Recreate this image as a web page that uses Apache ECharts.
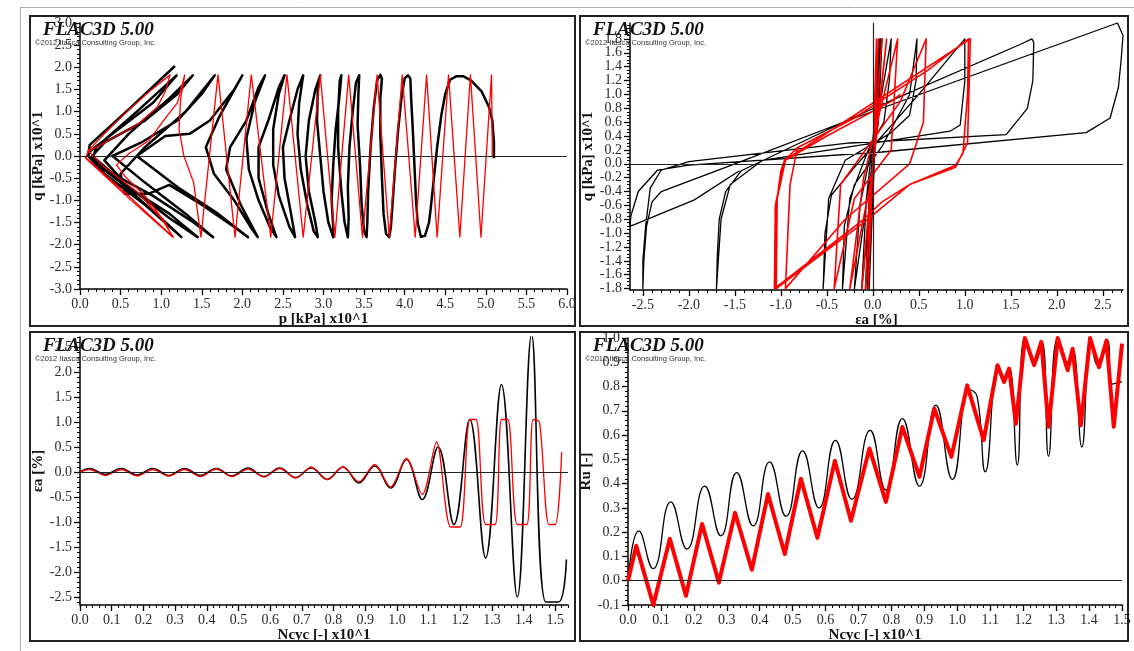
<!DOCTYPE html>
<html><head><meta charset="utf-8">
<script src="https://cdn.jsdelivr.net/npm/echarts@6/dist/echarts.min.js"></script>
<style>html,body{margin:0;padding:0;background:#fff}#c{width:1134px;height:651px}</style>
</head><body><div id="c"></div>
<script>
// ---------- tick labels ----------
const p1XTicks = [0.0,0.5,1.0,1.5,2.0,2.5,3.0,3.5,4.0,4.5,5.0,5.5,6.0];
const p1YTicks = [-3.0,-2.5,-2.0,-1.5,-1.0,-0.5,0.0,0.5,1.0,1.5,2.0,2.5,3.0];
const p2XTicks = [-2.5,-2.0,-1.5,-1.0,-0.5,0.0,0.5,1.0,1.5,2.0,2.5];
const p2YTicks = [-1.8,-1.6,-1.4,-1.2,-1.0,-0.8,-0.6,-0.4,-0.2,0.0,0.2,0.4,0.6,0.8,1.0,1.2,1.4,1.6,1.8];
const p3XTicks = [0.0,0.1,0.2,0.3,0.4,0.5,0.6,0.7,0.8,0.9,1.0,1.1,1.2,1.3,1.4,1.5];
const p3YTicks = [-2.5,-2.0,-1.5,-1.0,-0.5,0.0,0.5,1.0,1.5,2.0,2.5];
const p4XTicks = [0.0,0.1,0.2,0.3,0.4,0.5,0.6,0.7,0.8,0.9,1.0,1.1,1.2,1.3,1.4,1.5];
const p4YTicks = [-0.1,0.0,0.1,0.2,0.3,0.4,0.5,0.6,0.7,0.8,0.9,1.0];

// ---------- panel 1 : q vs p (black = model A, red = model B) ----------
const p1Black = [[5.1,-0.05],[5.1,0.3],[5.08,0.8],[5.04,1.1],[4.95,1.45],[4.82,1.7],[4.72,1.8],[4.64,1.8],[4.56,1.72],[4.5,1.4],[4.45,0.9],[4.4,0.2],[4.36,-0.5],[4.32,-1.2],[4.3,-1.5],[4.25,-1.8],[4.2,-1.82],[4.16,-1.5],[4.14,-1.0],[4.12,-0.2],[4.1,0.6],[4.08,1.3],[4.07,1.75],[4.04,1.82],[4.0,1.75],[3.96,1.3],[3.92,0.6],[3.88,-0.3],[3.85,-1.1],[3.83,-1.6],[3.81,-1.83],[3.77,-1.75],[3.74,-1.3],[3.72,-0.5],[3.7,0.5],[3.7,1.3],[3.72,1.75],[3.7,1.83],[3.66,1.7],[3.62,1.1],[3.58,0.2],[3.55,-0.8],[3.54,-1.5],[3.53,-1.83],[3.5,-1.7],[3.47,-1.1],[3.45,-0.2],[3.42,0.7],[3.43,1.4],[3.44,1.82],[3.4,1.65],[3.36,1.0],[3.32,0.2],[3.3,-0.7],[3.31,-1.4],[3.3,-1.83],[3.26,-1.5],[3.22,-0.8],[3.18,0.2],[3.18,1.0],[3.2,1.7],[3.22,1.82],[3.24,1.82],[3.2,1.4],[3.15,0.6],[3.12,-0.2],[3.1,-1.0],[3.12,-1.6],[3.12,-1.83],[3.06,-1.5],[3.0,-0.8],[2.96,0.0],[2.92,0.8],[2.93,1.5],[2.96,1.82],[2.9,1.5],[2.82,0.8],[2.78,0.0],[2.82,-0.8],[2.9,-1.5],[2.93,-1.83],[2.88,-1.7],[2.8,-1.1],[2.72,-0.3],[2.68,0.5],[2.7,1.2],[2.75,1.82],[2.68,1.5],[2.58,0.8],[2.5,0.2],[2.52,-0.5],[2.6,-1.3],[2.65,-1.83],[2.58,-1.6],[2.45,-0.9],[2.38,-0.2],[2.38,0.6],[2.45,1.4],[2.52,1.82],[2.45,1.55],[2.32,0.8],[2.2,0.2],[2.2,-0.5],[2.32,-1.3],[2.42,-1.83],[2.34,-1.6],[2.2,-1.0],[2.08,-0.3],[2.05,0.4],[2.15,1.2],[2.28,1.82],[2.2,1.55],[2.05,0.8],[1.85,0.2],[1.8,-0.3],[1.98,-1.1],[2.19,-1.83],[2.1,-1.6],[1.9,-1.0],[1.65,-0.4],[1.55,0.2],[1.72,0.9],[2.0,1.82],[1.9,1.5],[1.6,0.8],[1.35,0.5],[1.05,0.45],[0.7,0.0],[1.2,-0.7],[1.7,-1.3],[2.07,-1.83],[1.9,-1.6],[1.5,-1.1],[1.1,-0.65],[0.85,-0.85],[0.55,-0.85],[0.5,-0.4],[0.8,0.2],[1.3,1.0],[1.66,1.82],[1.5,1.4],[1.2,0.8],[0.75,0.3],[0.4,0.0],[0.8,-0.6],[1.3,-1.3],[1.64,-1.83],[1.4,-1.5],[0.9,-0.9],[0.5,-0.5],[0.3,-0.1],[0.6,0.5],[1.1,1.3],[1.39,1.82],[1.2,1.4],[0.8,0.8],[0.3,0.3],[0.15,0.0],[0.6,-0.7],[1.1,-1.4],[1.45,-1.83],[1.1,-1.3],[0.5,-0.6],[0.15,-0.1],[0.2,0.2],[0.7,1.0],[1.19,1.82],[0.9,1.2],[0.4,0.5],[0.12,0.1],[0.1,0.0],[0.5,-0.6],[1.0,-1.4],[1.25,-1.83],[0.8,-1.1],[0.3,-0.4],[0.1,0.0],[0.12,0.25],[0.6,1.05],[1.17,2.03]];
const p1Red = [[5.08,0.0],[5.07,1.83],[4.94,-1.83],[4.81,1.83],[4.68,-1.83],[4.54,1.83],[4.40,-1.83],[4.27,1.83],[4.13,-1.83],[3.97,1.83],[3.81,-1.83],[3.66,1.83],[3.48,-1.83],[3.31,1.83],[3.14,-1.83],[2.96,1.83],[2.75,-1.83],[2.55,1.83],[2.35,-1.83],[2.11,1.83],[1.91,-1.83],[1.70,1.83],[1.49,-1.83],[1.40,-0.6],[1.28,0.0],[1.22,0.6],[1.24,1.3],[1.29,1.83],[1.2,1.2],[1.05,0.85],[0.85,0.35],[0.6,0.05],[0.45,-0.2],[0.55,-0.45],[0.8,-0.9],[1.05,-1.5],[1.14,-1.83],[0.6,-0.95],[0.07,-0.05],[0.1,0.1],[0.3,0.3],[0.7,0.7],[0.95,1.1],[1.05,1.45],[1.11,1.83],[0.85,1.45],[0.55,0.95],[0.3,0.5],[0.1,0.12],[0.3,-0.25],[0.7,-0.8],[1.0,-1.4],[1.15,-1.83],[0.6,-0.9],[0.05,0.0]];

// ---------- panel 2 : q vs axial strain ----------
const p2Black = [[0,0],[0.03,1.0],[0.07,1.8],[0.04,0.8],[0.0,-0.5],[-0.04,-1.8],[-0.01,-0.6],[0.03,0.7],[0.07,1.8],[0.04,0.7],[-0.01,-0.6],[-0.06,-1.8],[-0.03,-0.6],[0.03,0.7],[0.08,1.8],[0.04,0.6],[-0.02,-0.6],[-0.08,-1.8],[-0.04,-0.5],[0.03,0.7],[0.09,1.8],[0.05,0.6],[-0.03,-0.6],[-0.12,-1.8],[-0.07,-0.5],[0.03,0.7],[0.1,1.8],[0.06,0.6],[-0.06,-0.5],[-0.2,-1.8],[-0.14,-0.6],[0.03,0.5],[0.2,1.8],[0.18,1.2],[0.12,0.6],[-0.05,0.2],[-0.25,-0.5],[-0.33,-1.8],[-0.31,-0.9],[-0.2,-0.3],[0.1,0.25],[0.4,1.0],[0.48,1.8],[0.47,1.2],[0.4,0.7],[0.2,0.45],[-0.3,0.05],[-0.48,-0.5],[-0.54,-1.8],[-0.52,-1.0],[-0.45,-0.45],[-0.2,-0.05],[0.5,1.0],[1.0,1.8],[1.0,1.19],[0.95,0.56],[0.84,0.47],[-1.2,0.05],[-1.55,-0.3],[-1.65,-0.8],[-1.7,-1.8],[-1.69,-1.3],[-1.67,-0.8],[-1.6,-0.4],[-1.43,-0.1],[-0.16,0.7],[0.11,0.86],[1.6,1.72],[1.73,1.8],[1.75,1.75],[1.74,1.2],[1.68,0.8],[1.45,0.42],[-0.25,0.3],[-2.0,0.03],[-2.3,-0.09],[-2.42,-0.35],[-2.47,-0.9],[-2.5,-1.4],[-2.5,-1.8],[-2.49,-1.4],[-2.46,-0.9],[-2.4,-0.55],[-2.3,-0.4],[-1.5,0.0],[-0.2,0.66],[2.66,2.03],[2.72,1.85],[2.7,1.5],[2.67,1.1],[2.58,0.66],[2.32,0.45],[0.1,0.17],[-2.0,-0.02],[-2.34,-0.09],[-2.55,-0.4],[-2.63,-0.75],[-2.64,-0.9],[-2.6,-0.88],[-1.94,-0.52],[-1.45,-0.1]];
const p2Red = [[0,0],[0.04,1.8],[0.0,0.0],[-0.05,-1.8],[0.0,0.0],[0.06,1.8],[0.0,0.0],[-0.08,-1.8],[0.0,0.0],[0.1,1.8],[0.0,0.0],[-0.12,-1.8],[0.0,0.0],[0.15,1.8],[0.0,-0.1],[-0.25,-1.8],[-0.1,-0.2],[0.27,1.8],[0.2,0.2],[-0.2,-0.5],[-0.42,-1.8],[-0.35,-0.3],[0.3,0.9],[0.58,1.8],[0.55,0.6],[0.4,0.0],[-0.3,-0.8],[-0.95,-1.8],[-0.9,-0.3],[-0.82,0.23],[-0.2,0.66],[0.6,1.35],[1.04,1.8],[1.03,1.0],[0.98,0.15],[0.9,-0.02],[0.4,-0.3],[0.1,-0.55],[-0.1,-0.8],[-1.05,-1.8],[-1.06,-1.5],[-1.05,-0.6],[-1.0,-0.1],[-0.96,0.05],[-0.82,0.23],[-0.2,0.66],[0.6,1.35],[1.04,1.8],[1.03,1.0],[0.98,0.15],[0.9,-0.02],[0.4,-0.3],[0.1,-0.55],[-0.1,-0.8],[-1.07,-1.8],[-1.06,-0.6],[-0.96,0.05],[-0.2,0.7],[1.06,1.8],[1.03,0.3],[0.9,-0.05],[0.4,-0.3],[-0.1,-0.85],[-1.05,-1.8],[-1.04,-0.5],[-0.95,0.05],[-0.5,0.4],[0.2,0.9],[0.3,1.0]];

// ---------- panel 3 : axial strain vs Ncyc ----------
const p3Black = [[0,0],[0.03,0.07],[0.08,-0.05],[0.13,0.07],[0.18,-0.06],[0.23,0.07],[0.28,-0.07],[0.33,0.07],[0.38,-0.07],[0.43,0.07],[0.48,-0.08],[0.53,0.08],[0.58,-0.09],[0.63,0.08],[0.68,-0.11],[0.73,0.08],[0.78,-0.15],[0.83,0.1],[0.88,-0.22],[0.93,0.12],[0.98,-0.32],[1.03,0.25],[1.08,-0.55],[1.13,0.5],[1.18,-1.05],[1.23,1.05],[1.28,-1.72],[1.33,1.75],[1.38,-2.5],[1.425,2.75],[1.47,-2.6],[1.51,-2.6],[1.535,-1.75]];
const p3Red = [[0,0],[0.03,0.05],[0.08,-0.07],[0.13,0.05],[0.18,-0.08],[0.23,0.05],[0.28,-0.08],[0.33,0.05],[0.38,-0.09],[0.43,0.06],[0.48,-0.09],[0.53,0.06],[0.58,-0.1],[0.63,0.07],[0.68,-0.12],[0.73,0.1],[0.78,-0.15],[0.83,0.1],[0.88,-0.2],[0.93,0.15],[0.98,-0.3],[1.03,0.27],[1.08,-0.45],[1.125,0.6],[1.17,-1.1],[1.2,-1.1],[1.23,1.05],[1.25,1.05],[1.28,-1.05],[1.31,-1.05],[1.33,1.05],[1.35,1.05],[1.38,-1.05],[1.41,-1.05],[1.43,1.05],[1.45,1.0],[1.48,-1.05],[1.5,-1.05],[1.52,0.4]];

// ---------- panel 4 : Ru vs Ncyc ----------
const p4Black = [[0.0,0.0],[0.033,0.205],[0.076,0.05],[0.13,0.325],[0.179,0.13],[0.233,0.39],[0.282,0.185],[0.33,0.445],[0.38,0.226],[0.43,0.49],[0.48,0.265],[0.53,0.535],[0.58,0.30],[0.63,0.578],[0.68,0.335],[0.735,0.62],[0.783,0.373],[0.833,0.668],[0.885,0.39],[0.935,0.723],[0.985,0.417],[1.037,0.787],[1.06,0.76],[1.085,0.449],[1.125,0.888],[1.145,0.826],[1.158,0.878],[1.182,0.476],[1.205,1.0],[1.235,0.894],[1.257,0.984],[1.277,0.513],[1.305,1.0],[1.335,0.9],[1.35,0.956],[1.378,0.551],[1.405,1.0],[1.425,0.89],[1.455,0.99],[1.47,0.81],[1.5,0.82]];
const p4Red = [[0.0,0.0],[0.025,0.144],[0.077,-0.1],[0.127,0.173],[0.176,-0.062],[0.225,0.234],[0.276,-0.008],[0.325,0.28],[0.376,0.045],[0.425,0.357],[0.476,0.11],[0.525,0.42],[0.575,0.177],[0.628,0.494],[0.677,0.247],[0.733,0.545],[0.783,0.325],[0.833,0.634],[0.885,0.428],[0.93,0.709],[0.982,0.51],[1.03,0.805],[1.08,0.579],[1.122,0.888],[1.142,0.819],[1.157,0.874],[1.178,0.647],[1.205,1.0],[1.233,0.888],[1.255,0.984],[1.277,0.634],[1.305,1.0],[1.335,0.867],[1.35,0.956],[1.375,0.64],[1.403,1.0],[1.43,0.88],[1.453,0.99],[1.475,0.634],[1.5,0.977]];

// ---------- build ----------
const SERIF = '"Liberation Serif","Times New Roman",serif';
function minors(a, b, s) {
  const r = []; const n = Math.round((b - a) / s);
  for (let i = 0; i <= n; i++) r.push(+(a + i * s).toFixed(4));
  return r;
}
const panels = [
  {grid:{left:80, top:23, width:487, height:266}, x:[0,6], y:[-3,3], xt:p1XTicks, yt:p1YTicks, xm:0.1, ym:0.1,
   xName:'p [kPa] x10^1', yName:'q [kPa] x10^1', series:[[p1Black,'#000',2.5,false],[p1Red,'#ff0000',1.3,false]], vzero:false},
  {grid:{left:630, top:23, width:493, height:267}, x:[-2.64,2.72], y:[-1.82,2.03], xt:p2XTicks, yt:p2YTicks, xm:0.1, ym:0.05,
   xName:'\u03b5a [%]', yName:'q [kPa] x10^1', series:[[p2Black,'#000',1.3,false],[p2Red,'#ff0000',1.6,false]], vzero:true},
  {grid:{left:80, top:337, width:488, height:268}, x:[0,1.54], y:[-2.66,2.7], xt:p3XTicks, yt:p3YTicks, xm:0.02, ym:0.1,
   xName:'Ncyc [-] x10^1', yName:'\u03b5a [%]', series:[[p3Black,'#000',1.6,0.4],[p3Red,'#ff0000',1.3,0.3]], vzero:false},
  {grid:{left:628, top:338, width:494, height:267}, x:[0,1.5], y:[-0.1,1.0], xt:p4XTicks, yt:p4YTicks, xm:0.02, ym:0.02,
   xName:'Ncyc [-] x10^1', yName:'Ru [-]', series:[[p4Black,'#000',1.3,0.5],[p4Red,'#ff0000',4,false]], vzero:false}
];

const grids = [], xAxes = [], yAxes = [], series = [];
const labelStyle = {fontFamily: SERIF, fontSize: 14, color: '#2a2a2a'};
const nameStyle = {fontFamily: SERIF, fontSize: 15, fontWeight: 'bold', color: '#111'};
panels.forEach((p, i) => {
  grids.push(Object.assign({containLabel:false}, p.grid));
  const xMinor = minors(p.xt[0] - Math.ceil((p.xt[0]-p.x[0])/p.xm)*p.xm, p.x[1], p.xm).filter(v => v >= p.x[0]-1e-9 && v <= p.x[1]+1e-9);
  const yMinor = minors(p.yt[0] - Math.ceil((p.yt[0]-p.y[0])/p.ym)*p.ym, p.y[1], p.ym).filter(v => v >= p.y[0]-1e-9 && v <= p.y[1]+1e-9);
  xAxes.push({type:'value', gridIndex:i, position:'bottom', min:p.x[0], max:p.x[1],
    axisLine:{show:true, onZero:false, lineStyle:{color:'#000', width:1.5}},
    axisTick:{show:true, customValues:p.xt, length:6, lineStyle:{color:'#000', width:1.3}},
    axisLabel:{customValues:p.xt, formatter:v => (+v).toFixed(1), margin:8, ...labelStyle},
    splitLine:{show:false}, name:p.xName, nameLocation:'middle', nameGap:22, nameTextStyle:nameStyle});
  xAxes.push({type:'value', gridIndex:i, position:'bottom', min:p.x[0], max:p.x[1],
    axisLine:{show:false, onZero:false}, axisTick:{show:true, customValues:xMinor, length:3, lineStyle:{color:'#000', width:1}},
    axisLabel:{show:false}, splitLine:{show:false}});
  yAxes.push({type:'value', gridIndex:i, position:'left', min:p.y[0], max:p.y[1],
    axisLine:{show:true, onZero:false, lineStyle:{color:'#000', width:1.5}},
    axisTick:{show:true, customValues:p.yt, length:6, lineStyle:{color:'#000', width:1.3}},
    axisLabel:{customValues:p.yt, formatter:v => (+v).toFixed(1), margin:8, ...labelStyle},
    splitLine:{show:false}, name:p.yName, nameLocation:'middle', nameGap:33, nameTextStyle:nameStyle});
  yAxes.push({type:'value', gridIndex:i, position:'left', min:p.y[0], max:p.y[1],
    axisLine:{show:false, onZero:false}, axisTick:{show:true, customValues:yMinor, length:3, lineStyle:{color:'#000', width:1}},
    axisLabel:{show:false}, splitLine:{show:false}});
  const ml = [{yAxis:0}]; if (p.vzero) ml.push({xAxis:0});
  p.series.forEach((s, k) => {
    series.push({type:'line', xAxisIndex:2*i, yAxisIndex:2*i, data:s[0], showSymbol:false, symbol:'none',
      smooth:s[3], clip:true, animation:false, silent:true, z: k === 0 ? 3 : 4,
      lineStyle:{color:s[1], width:s[2], join:'round'},
      markLine: k === 0 ? {silent:true, symbol:['none','none'], label:{show:false}, animation:false,
        lineStyle:{color:'#222', width:1.2, type:'solid'}, data:ml} : undefined});
  });
});

const boxes = [[30,16,545,310],[580,16,548,310],[30,332,545,309],[580,332,548,309]];
const graphic = [
  {type:'line', shape:{x1:20, y1:7.5, x2:1134, y2:7.5}, style:{stroke:'#aaa', lineWidth:1}, silent:true},
  {type:'line', shape:{x1:20.5, y1:7, x2:20.5, y2:651}, style:{stroke:'#aaa', lineWidth:1}, silent:true}
];
boxes.forEach(b => {
  graphic.push({type:'rect', shape:{x:b[0], y:b[1], width:b[2], height:b[3]}, style:{fill:'none', stroke:'#222', lineWidth:2}, z:10, silent:true});
  graphic.push({type:'text', x:b[0]+13, y:b[1]+5, style:{text:'FLAC3D 5.00', font:'italic bold 19px ' + SERIF, fill:'#111'}, z:11, silent:true});
  graphic.push({type:'text', x:b[0]+5, y:b[1]+23, style:{text:'\u00a92012 Itasca Consulting Group, Inc.', font:'7.5px "Liberation Sans",Arial,sans-serif', fill:'#333'}, z:11, silent:true});
});

const chart = echarts.init(document.getElementById('c'), null, {renderer:'canvas'});
chart.setOption({animation:false, backgroundColor:'#fff', grid:grids, xAxis:xAxes, yAxis:yAxes, series:series, graphic:graphic});
</script></body></html>
